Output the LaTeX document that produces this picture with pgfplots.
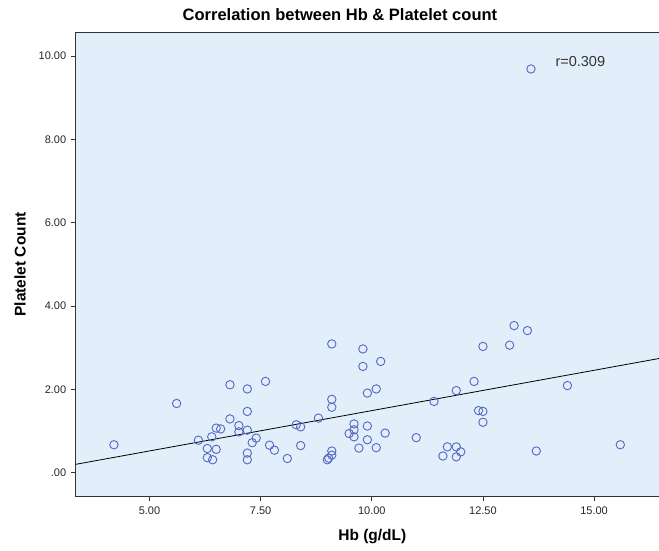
\documentclass[border=0pt]{standalone}
\usepackage{fontspec}
\setmainfont{Liberation Sans}
\usepackage{pgfplots}
\pgfplotsset{compat=1.18}
\definecolor{bgblue}{RGB}{226,238,250}
\definecolor{ptblue}{RGB}{84,104,196}
\begin{document}
\begin{tikzpicture}
\begin{axis}[
  scale only axis,
  width=583.3pt, height=463.3pt,
  xmin=3.34, xmax=16.46,
  ymin=-0.56, ymax=10.56,
  axis background/.style={fill=bgblue},
  axis line style={draw=black!80, line width=0.8pt},
  xtick={5,7.5,10,12.5,15},
  xticklabels={5.00,7.50,10.00,12.50,15.00},
  ytick={0,2,4,6,8,10},
  yticklabels={.00,2.00,4.00,6.00,8.00,10.00},
  tick align=outside,
  xtick pos=bottom, ytick pos=left,
  major tick length=5pt,
  tick style={black!80, line width=0.8pt},
  ticklabel style={font=\fontsize{11}{13}\selectfont, text=black!85},
  xticklabel style={yshift=-2pt},
  yticklabel style={xshift=-1pt},
  title={\textbf{Correlation between Hb \& Platelet count}},
  title style={font=\fontsize{16.5}{19}\selectfont, at={(axis description cs:0.453,1)}, anchor=base, yshift=6pt},
  xlabel={\textbf{Hb (g/dL)}},
  ylabel={\textbf{Platelet Count}},
  label style={font=\fontsize{15.5}{17}\selectfont},
  xlabel style={at={(axis description cs:0.5,0)}, anchor=base, yshift=-44pt, xshift=5pt},
  ylabel style={yshift=6pt},
  clip=true,
]
\addplot[only marks, mark=o, mark size=4.2pt, mark options={draw=ptblue, line width=0.9pt}] coordinates {
(4.20,0.67) (5.61,1.66) (6.10,0.78) (6.40,0.86) (6.30,0.58) (6.50,0.56)
(6.30,0.36) (6.42,0.31) (6.50,1.07) (6.60,1.05) (6.81,2.11) (7.20,2.01)
(7.61,2.19) (6.81,1.29) (7.20,1.47) (7.01,1.13) (7.01,0.98) (7.20,1.02)
(7.40,0.83) (7.31,0.72) (7.70,0.66) (7.81,0.54) (7.20,0.47) (7.20,0.31)
(8.30,1.15) (8.40,1.10) (8.40,0.65) (8.10,0.34) (8.80,1.31) (9.00,0.31)
(9.03,0.35) (9.10,0.52) (9.10,0.42) (9.10,3.09) (9.10,1.76) (9.10,1.57)
(9.49,0.94) (9.60,1.17) (9.60,1.03) (9.60,0.86) (9.71,0.59) (9.80,2.97)
(9.80,2.55) (9.90,1.91) (9.90,1.12) (9.90,0.79) (10.10,2.01) (10.20,2.67)
(10.10,0.60) (10.30,0.95) (11.00,0.84) (11.40,1.71) (11.60,0.40) (11.70,0.62)
(11.90,0.62) (11.90,0.38) (11.90,1.97) (12.00,0.50) (12.30,2.19) (12.40,1.49)
(12.50,1.47) (12.50,1.21) (12.50,3.03) (13.10,3.06) (13.20,3.53) (13.50,3.41)
(13.58,9.69) (13.70,0.52) (14.40,2.09) (15.59,0.67)
};
\addplot[black, line width=0.8pt] coordinates {(3.34,0.20) (16.46,2.74)};
\node[anchor=center, font=\fontsize{14.5}{16}\selectfont, text=black!80] at (axis cs:14.69,9.86) {r=0.309};
\end{axis}
\pgfresetboundingbox
\path ([xshift=-75.7pt,yshift=-54pt]current axis.south west) rectangle ([yshift=32.7pt]current axis.north east);
\end{tikzpicture}
\end{document}
